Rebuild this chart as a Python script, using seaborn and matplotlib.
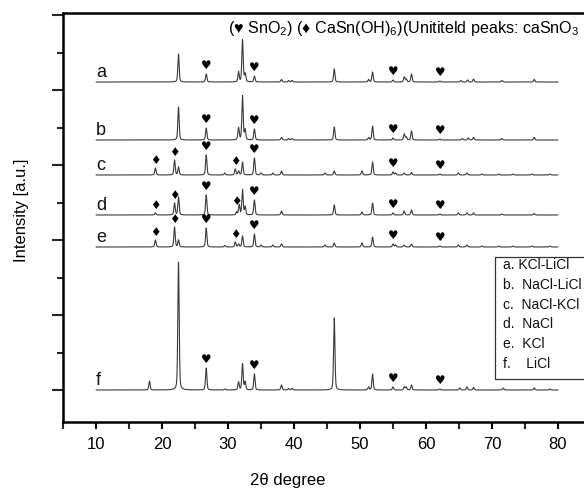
import numpy as np
import pandas as pd
import matplotlib
matplotlib.use("Agg")
import matplotlib.pyplot as plt
import seaborn as sns
from matplotlib.ticker import MultipleLocator, NullFormatter
from matplotlib.patches import Rectangle

# ---------------- data ----------------
samples = ["a", "b", "c", "d", "e", "f"]
legend_labels = ["a. KCl-LiCl", "b.  NaCl-LiCl", "c.  NaCl-KCl",
                 "d.  NaCl", "e.  KCl", "f.    LiCl"]
# vertical offset of each pattern (stacked plot, arbitrary units)
offsets = [308, 250, 215, 175, 143, 0]

a_pos = [22.5, 26.7, 31.6, 32.2, 32.6, 34.0, 38.1, 39.2, 39.7, 46.1, 51.3, 51.9,
         55.0, 56.7, 57.0, 57.8, 62.1, 65.3, 66.3, 67.2, 71.5, 76.4]
a_int = [28, 8, 10, 42, 8, 6, 2.5, 1.5, 1.5, 13, 2.5, 10,
         2, 5, 3, 8, 1, 1.5, 2, 3, 1.5, 2.5]
b_pos = [22.5, 26.7, 31.6, 32.2, 32.6, 34.0, 38.1, 39.2, 39.7, 46.1, 51.3, 51.9,
         55.0, 56.7, 57.0, 57.8, 62.1, 65.5, 66.4, 67.2, 71.5, 76.4]
b_int = [33, 12, 12, 44, 10, 11, 2.5, 1.5, 1.5, 13, 2.5, 14,
         2, 6, 3, 9, 1, 1.5, 2, 2.5, 1.5, 2.5]
c_pos = [19.0, 21.9, 22.5, 26.7, 29.5, 31.1, 31.6, 32.2, 34.0, 35.0, 36.8, 38.1,
         44.7, 46.1, 50.3, 51.9, 55.0, 55.4, 56.7, 57.8, 62.1, 64.9, 66.2,
         68.5, 71.0, 73.2, 76.0, 78.8]
c_int = [7, 15, 8, 20, 2, 6, 4, 13, 17, 2, 2, 4,
         2, 4, 4, 13, 3, 2, 2, 2.5, 1, 2, 2,
         1, 1, 1, 1, 1]
d_pos = [19.0, 21.9, 22.5, 26.7, 31.3, 31.7, 32.2, 32.6, 34.0, 38.1, 46.1, 50.3,
         51.9, 55.0, 56.7, 57.8, 62.1, 64.9, 66.2, 67.2, 71.5, 76.4]
d_int = [2, 12, 18, 20, 3, 10, 25, 8, 15, 4, 10, 3,
         12, 2, 4, 5, 1, 2, 2, 2, 1, 1.5]
e_pos = [19.0, 21.9, 22.5, 26.7, 29.5, 31.1, 31.6, 32.2, 34.0, 35.0, 36.8, 38.1,
         44.7, 46.1, 50.3, 51.9, 55.0, 55.4, 56.7, 57.8, 62.1, 64.9, 66.2,
         68.5, 71.0, 73.2, 76.0, 78.8]
e_int = [7, 20, 7, 19, 1.5, 5, 3, 11, 13, 2, 2, 3,
         2, 4, 4, 10, 3, 2, 2, 3, 1, 2, 2,
         1, 1, 1, 1, 1]
f_pos = [18.1, 22.5, 26.7, 29.5, 31.6, 32.2, 32.6, 34.0, 38.1, 39.2, 39.7, 46.1,
         51.3, 51.9, 55.0, 56.7, 57.0, 57.8, 62.1, 65.1, 66.2, 67.2, 71.7, 76.4, 78.8]
f_int = [9, 128, 22, 1, 8, 26, 8, 16, 5, 1.5, 1.5, 72,
         3, 16, 3, 3, 3, 5, 1, 2, 3, 2.5, 2, 2, 1]

peak_positions = [a_pos, b_pos, c_pos, d_pos, e_pos, f_pos]
peak_heights = [a_int, b_int, c_int, d_int, e_int, f_int]

# phase markers (2theta of marked reflections)
sno2_marks = [[26.7, 34.0, 55.0, 62.1]] * 6                      # heart: SnO2
casnoh_marks = [[], [], [19.0, 21.9, 31.1], [19.0, 21.9, 31.3],  # diamond: CaSn(OH)6
                [19.0, 21.9, 31.1], []]

x_ticks = [10, 20, 30, 40, 50, 60, 70, 80]
header = "(\u2665 SnO$_2$) (\u2666 CaSn(OH)$_6$)(Unititeld peaks: caSnO$_3$"

# ---------------- build patterns ----------------
two_theta = np.arange(10.0, 80.0001, 0.01)
fwhm = 0.24
eta = 0.35


def profile(x, c, h):
    g = np.exp(-4 * np.log(2) * ((x - c) / fwhm) ** 2)
    l = 1.0 / (1 + 4 * ((x - c) / fwhm) ** 2)
    return h * ((1 - eta) * g + eta * l)


frames = []
curves = {}
for s, off, pos, hts in zip(samples, offsets, peak_positions, peak_heights):
    y = np.full_like(two_theta, float(off))
    for c, h in zip(pos, hts):
        y += profile(two_theta, c, h)
    curves[s] = y
    frames.append(pd.DataFrame({"two_theta": two_theta, "intensity": y, "sample": s}))
df = pd.concat(frames, ignore_index=True)

# ---------------- figure ----------------
sns.set_theme(style="ticks")
plt.rcParams["font.family"] = ["Liberation Sans", "DejaVu Sans"]
plt.rcParams["mathtext.fontset"] = "custom"
plt.rcParams["mathtext.rm"] = "Liberation Sans"
plt.rcParams["mathtext.it"] = "Liberation Sans:italic"

fig = plt.figure(figsize=(5.84, 4.93), dpi=100)
ax = fig.add_axes([63 / 584, 71 / 493, 528 / 584, 409 / 493])

sns.lineplot(data=df, x="two_theta", y="intensity", hue="sample",
             palette={s: "#3a3a3a" for s in samples}, linewidth=0.8,
             legend=False, sort=False, estimator=None, ax=ax)

ax.set_xlim(5, 85)
ax.set_ylim(-32, 377)

# sample letters
for s, off in zip(samples, offsets):
    ax.text(10.0, off + 1.0, s, fontsize=13, ha="left", va="bottom", color="#111111")

# phase markers
for s, hearts, diamonds in zip(samples, sno2_marks, casnoh_marks):
    y = curves[s]
    for p in hearts:
        m = (two_theta > p - 0.3) & (two_theta < p + 0.3)
        ax.text(p, y[m].max() + 8, "\u2665", fontsize=8.5, ha="center", va="center",
                family="DejaVu Sans", color="black")
    for p in diamonds:
        m = (two_theta > p - 0.3) & (two_theta < p + 0.3)
        ax.text(p, y[m].max() + 7, "\u2666", fontsize=8.5, ha="center", va="center",
                family="DejaVu Sans", color="black")

# header line
ax.text(30.0, 362, header, fontsize=11.6, ha="left", va="center", color="black",
        family=["Liberation Sans", "DejaVu Sans"], clip_on=False)

# legend box
ax.add_patch(Rectangle((70.45, 11), 25, 122, fill=False, edgecolor="#333333",
                       linewidth=0.9, clip_on=False, zorder=5))
for i, lab in enumerate(legend_labels):
    ax.text(71.7, 125 - i * 19.8, lab, fontsize=10, ha="left", va="center",
            color="#111111", clip_on=False)

# axes styling
for sp in ["left", "bottom", "top"]:
    ax.spines[sp].set_linewidth(1.8)
    ax.spines[sp].set_color("black")
ax.spines["right"].set_visible(False)

ax.set_xticks(x_ticks)
ax.xaxis.set_minor_locator(MultipleLocator(5))
ax.yaxis.set_major_locator(MultipleLocator(75))
ax.yaxis.set_minor_locator(MultipleLocator(37.5))
ax.yaxis.set_major_formatter(NullFormatter())
ax.tick_params(axis="x", which="major", direction="out", length=5, width=1.5,
               labelsize=12, pad=6, colors="black")
ax.tick_params(axis="x", which="minor", direction="out", length=5, width=1.5)
ax.tick_params(axis="y", which="major", direction="out", length=8, width=1.5)
ax.tick_params(axis="y", which="minor", direction="out", length=4.5, width=1.5)

ax.set_xlabel("2\u03b8 degree", fontsize=12, color="black")
ax.set_ylabel("Intensity [a.u.]", fontsize=12, color="black")
ax.xaxis.set_label_coords((288 - 63) / 528, -0.1247)
ax.yaxis.set_label_coords(-0.064, 0.518)

fig.savefig("out.png", dpi=100)
